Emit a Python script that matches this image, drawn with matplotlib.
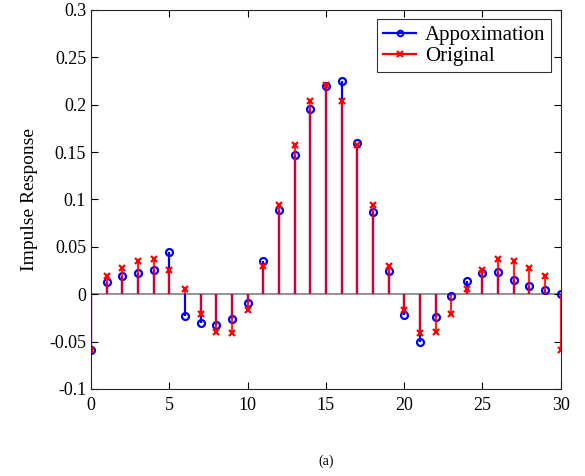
import matplotlib.pyplot as plt
import numpy as np
from matplotlib.lines import Line2D
from matplotlib.legend_handler import HandlerLine2D

plt.rcParams['font.family'] = ['Liberation Serif', 'DejaVu Serif']

# 采样点
n = np.arange(0, 31)

# 近似冲激响应（蓝色圆圈）
approx = [-0.059, 0.013, 0.019, 0.022, 0.025, 0.044, -0.023, -0.030, -0.033, -0.026,
          -0.009, 0.035, 0.089, 0.147, 0.195, 0.220, 0.225, 0.160, 0.087, 0.024,
          -0.022, -0.051, -0.024, -0.002, 0.014, 0.022, 0.023, 0.015, 0.009, 0.004,
          0.000]

# 原始冲激响应（红色叉）
original = [-0.059, 0.019, 0.028, 0.035, 0.037, 0.026, 0.005, -0.021, -0.040, -0.041,
            -0.017, 0.030, 0.094, 0.157, 0.204, 0.221, 0.204, 0.157, 0.094, 0.030,
            -0.017, -0.041, -0.040, -0.021, 0.005, 0.026, 0.037, 0.035, 0.028, 0.019,
            -0.059]


# 图例里把标记放在线段右端（MATLAB stem 风格）
class HandlerStem(HandlerLine2D):
    def get_xdata(self, legend, xdescent, ydescent, width, height, fontsize):
        xdata = np.linspace(-xdescent, -xdescent + width, 2)
        xdata_marker = [-xdescent + width * 0.85]
        return xdata, xdata_marker


fig = plt.figure(figsize=(5.85, 4.76), dpi=100)
ax = fig.add_axes([0.1556, 0.183, 0.803, 0.796])

m1, s1, b1 = ax.stem(n, approx, linefmt='b-', markerfmt='bo', basefmt=' ')
s1.set_linewidth(1.6)
m1.set_markerfacecolor('none')
m1.set_markersize(5)
m1.set_markeredgewidth(1.6)

m2, s2, b2 = ax.stem(n, original, linefmt='r-', markerfmt='rx', basefmt=' ')
s2.set_linewidth(1.6)
s2.set_alpha(0.85)
m2.set_markersize(5)
m2.set_markeredgewidth(1.6)

# 基线
ax.axhline(0, color='#808080', lw=1.2, zorder=1)

ax.set_xlim(0, 30)
ax.set_ylim(-0.1, 0.3)
ax.set_xticks(np.arange(0, 31, 5))
ax.set_yticks(np.arange(-0.1, 0.301, 0.05))
ax.set_yticklabels(['-0.1', '-0.05', '0', '0.05', '0.1', '0.15', '0.2', '0.25', '0.3'])
ax.tick_params(direction='in', top=True, right=True, labelsize=13, length=5, width=0.8)
ax.tick_params(axis='x', pad=6)
for sp in ax.spines.values():
    sp.set_linewidth(0.8)
    sp.set_color('#262626')

ax.set_ylabel('Impulse Response', fontsize=14, labelpad=8)
fig.text(0.557, 0.03, '(a)', fontsize=10, ha='center', va='center')

h1 = Line2D([], [], color='b', marker='o', markerfacecolor='none', markersize=4,
            markeredgewidth=1.5, lw=1.6)
h2 = Line2D([], [], color='r', marker='x', markersize=4, markeredgewidth=1.5, lw=1.6)
leg = ax.legend([h1, h2], ['Appoximation', 'Original'], loc='upper right', fontsize=15,
                frameon=True, fancybox=False, edgecolor='black', borderpad=0.3,
                handlelength=1.6, handletextpad=0.4, labelspacing=0.05,
                borderaxespad=0.45, numpoints=1,
                handler_map={Line2D: HandlerStem()})
leg.get_frame().set_linewidth(0.8)

fig.savefig('out.png', dpi=100)
